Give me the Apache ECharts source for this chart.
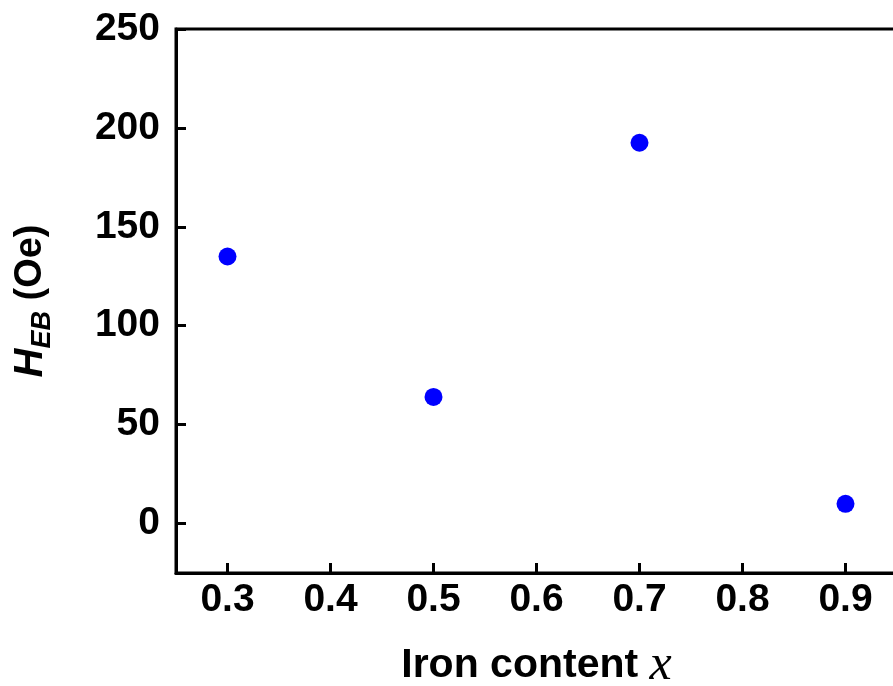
<!DOCTYPE html>
<html>
<head>
<meta charset="utf-8">
<script src="https://cdn.jsdelivr.net/npm/echarts@6/dist/echarts.min.js"></script>
<style>html,body{margin:0;padding:0;background:#fff;}#c{width:893px;height:686px;}</style>
</head>
<body>
<div id="c"></div>
<script>
const ironContent = [0.3, 0.5, 0.7, 0.9];
const hEB = [135, 64, 192.5, 10];
const xTicks = [0.3, 0.4, 0.5, 0.6, 0.7, 0.8, 0.9];
const yTicks = [0, 50, 100, 150, 200, 250];

const chart = echarts.init(document.getElementById('c'));
const font = 'Liberation Sans, Arial, sans-serif';
chart.setOption({
  backgroundColor: '#fff',
  animation: false,
  grid: {
    left: 176, top: 29, width: 721, height: 544,
    show: true, borderColor: '#000', borderWidth: 3,
    outerBoundsMode: 'none', containLabel: false
  },
  xAxis: {
    type: 'value', min: 0.25, max: 0.95,
    name: '{a|Iron content }{b|x}',
    nameLocation: 'middle', nameGap: 68,
    nameTextStyle: {
      rich: {
        a: { fontFamily: font, fontWeight: 'bold', fontSize: 41, color: '#000' },
        b: { fontFamily: 'Liberation Serif, Times New Roman, serif', fontStyle: 'italic', fontSize: 50, color: '#000' }
      }
    },
    axisLine: { show: true, onZero: false, lineStyle: { color: '#000', width: 3 } },
    axisTick: { show: true, inside: true, length: 10, lineStyle: { color: '#000', width: 3 }, customValues: xTicks },
    axisLabel: { customValues: xTicks, formatter: v => v.toFixed(1), margin: 8,
      fontFamily: font, fontWeight: 'bold', fontSize: 39, color: '#000' },
    splitLine: { show: false }
  },
  yAxis: {
    type: 'value', min: -25, max: 250,
    name: '{h|H}{s|EB}{n| (Oe)}',
    nameLocation: 'middle', nameGap: 120,
    nameTextStyle: {
      rich: {
        h: { fontFamily: font, fontWeight: 'bold', fontStyle: 'italic', fontSize: 40, color: '#000', lineHeight: 50, verticalAlign: 'middle' },
        s: { fontFamily: font, fontWeight: 'bold', fontStyle: 'italic', fontSize: 27, color: '#000', lineHeight: 27, verticalAlign: 'bottom' },
        n: { fontFamily: font, fontWeight: 'bold', fontSize: 38, color: '#000', lineHeight: 50, verticalAlign: 'middle' }
      }
    },
    axisLine: { show: true, onZero: false, lineStyle: { color: '#000', width: 3 } },
    axisTick: { show: true, inside: true, length: 10, lineStyle: { color: '#000', width: 3 }, customValues: yTicks },
    axisLabel: { customValues: yTicks, margin: 16,
      fontFamily: font, fontWeight: 'bold', fontSize: 39, color: '#000' },
    splitLine: { show: false }
  },
  series: [{
    type: 'scatter',
    data: ironContent.map((x, i) => [x, hEB[i]]),
    symbol: 'circle', symbolSize: 18,
    itemStyle: { color: '#0000ff', opacity: 1 }
  }]
});
</script>
</body>
</html>
